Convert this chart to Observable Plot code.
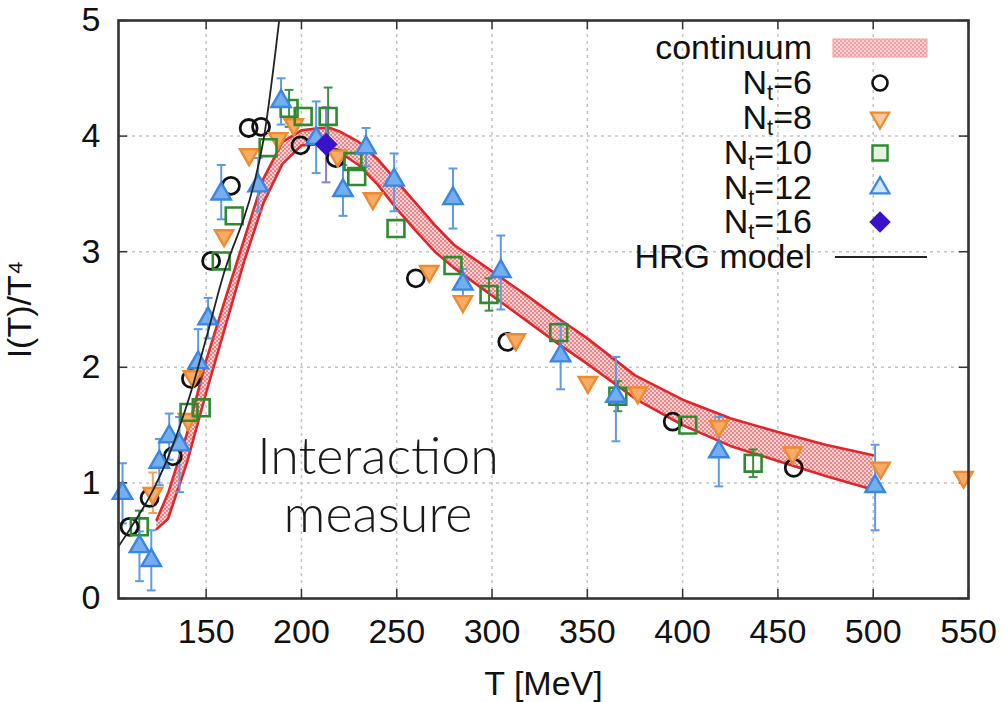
<!DOCTYPE html>
<html><head><meta charset="utf-8">
<script src="https://cdn.jsdelivr.net/npm/d3@7"></script>
<script src="https://cdn.jsdelivr.net/npm/@observablehq/plot@0.6"></script>
<style>
body{margin:0;background:#fff;}
#wrap{position:relative;width:1006px;height:702px;overflow:hidden;background:#fff;}
#chart{position:absolute;left:0;top:0;}
.note{position:absolute;left:178px;width:400px;text-align:center;font-family:"Lato","Open Sans",sans-serif;font-weight:300;font-size:52px;line-height:56px;height:56px;color:#1a1a1a;white-space:nowrap;}
g[aria-label="x-axis tick label"]{font-family:"Liberation Sans Narrow","Liberation Sans",Arial,sans-serif;}
</style></head>
<body><div id="wrap"><div id="chart"></div><div class="note" style="top:426px">Interaction</div><div class="note" style="top:484px">measure</div></div>
<script>
// ---- axis ticks ----
const xTicks = [150, 200, 250, 300, 350, 400, 450, 500, 550];
const yTicks = [0, 1, 2, 3, 4, 5];

// ---- continuum band ----
const contT  = [124,130,140,150,160,170,180,190,200,210,215,220,230,240,250,260,270,280,300,320,335,350,375,400,425,450,475,500];
const contLo = [0.60,0.69,1.18,1.78,2.35,2.92,3.42,3.76,3.92,3.93,3.90,3.86,3.75,3.58,3.37,3.18,3.00,2.86,2.62,2.38,2.20,2.03,1.73,1.50,1.32,1.19,1.06,0.94];
const contHi = [0.68,0.91,1.43,2.06,2.59,3.11,3.63,3.95,4.05,4.07,4.07,4.04,3.95,3.80,3.61,3.42,3.23,3.06,2.83,2.60,2.42,2.25,1.93,1.72,1.56,1.44,1.33,1.24];

// ---- HRG model ----
const hrgT = [104,110,120,130,140,150,160,170,175,180,185,189];
const hrgI = [0.45,0.60,0.87,1.22,1.68,2.25,2.85,3.30,3.58,3.96,4.55,5.10];

// ---- Nt=6 ----
const nt6T = [109.8,120.3,132.5,142,152.6,163,172.3,178.8,199.5,218,260,308,394.8,458.3];
const nt6I = [0.62,0.87,1.23,1.90,2.92,3.57,4.07,4.08,3.92,3.81,2.77,2.22,1.53,1.13];

// ---- Nt=8 ----
const nt8T = [122,140.5,143,159.4,172.5,187.7,196,219,237.5,267,284.7,312.5,350.3,376.5,419,457.7,503.9,547.4];
const nt8I = [0.91,1.55,1.92,3.14,3.84,3.98,4.10,3.83,3.46,2.83,2.57,2.24,1.87,1.78,1.49,1.26,1.13,1.05];
const nt8ErrT  = [122];
const nt8ErrLo = [0.74];
const nt8ErrHi = [1.09];

// ---- Nt=10 ----
const nt10T = [114.9,141,147.4,157.9,164.7,182.5,193.5,200.9,214,227,229,249.6,279.5,298.4,335,366,402.7,437];
const nt10I = [0.62,1.61,1.65,2.92,3.31,3.90,4.24,4.17,4.17,3.78,3.65,3.20,2.88,2.63,2.30,1.75,1.50,1.17];
const nt10ErrT  = [114.9,193.5,214,298.4,366,437];
const nt10ErrLo = [0.48,4.08,3.92,2.49,1.62,1.05];
const nt10ErrHi = [0.76,4.40,4.42,2.77,1.88,1.29];

// ---- Nt=12 ----
const nt12T  = [106.1,115,121.2,125.4,130.6,136,145.8,151,157.9,177.3,189.3,207.7,221.8,233.9,248.6,279.5,284.7,304.6,336,365,419,501];
const nt12I  = [0.91,0.45,0.33,1.18,1.40,1.33,2.04,2.42,3.50,3.57,4.30,3.98,3.53,3.90,3.62,3.46,2.72,2.83,2.10,1.75,1.27,0.97];
const nt12Lo = [0.65,0.15,0.07,0.98,1.20,0.92,1.86,2.25,3.28,3.35,4.10,3.68,3.31,3.74,3.35,3.20,2.60,2.50,1.81,1.36,0.97,0.59];
const nt12Hi = [1.17,0.58,0.59,1.38,1.60,1.57,2.33,2.60,3.75,3.81,4.50,4.30,3.75,4.07,3.85,3.72,2.85,3.14,2.38,2.09,1.57,1.33];

// ---- Nt=16 ----
const nt16T = [212.9];
const nt16I = [3.93];
const nt16Lo = [3.60];
const nt16Hi = [4.25];

// ---- legend ----
const legendLabels = ["continuum","6","8","10","12","16","HRG model"];

const zip = (T, I) => T.map((t, i) => ({T: t, I: I[i]}));
const zipErr = (T, lo, hi) => T.map((t, i) => ({T: t, lo: lo[i], hi: hi[i]}));

const cont = contT.map((t, i) => ({T: t, lo: contLo[i], hi: contHi[i]}));
const hrg = zip(hrgT, hrgI);
const nt6 = zip(nt6T, nt6I);
const nt8 = zip(nt8T, nt8I);
const nt10 = zip(nt10T, nt10I);
const nt12 = zip(nt12T, nt12I);
const nt16 = zip(nt16T, nt16I);
const err8 = zipErr(nt8ErrT, nt8ErrLo, nt8ErrHi);
const err10 = zipErr(nt10ErrT, nt10ErrLo, nt10ErrHi);
const err12 = zipErr(nt12T, nt12Lo, nt12Hi);
const err16 = zipErr(nt16T, nt16Lo, nt16Hi);

const cap = {draw(ctx, size) { const w = Math.sqrt(size) / 2; ctx.moveTo(-w, 0); ctx.lineTo(w, 0); }};

const C6 = "#111111", C8s = "#f08a2c", C8f = "#f6ac68", C10 = "#2e8b2e", C12s = "#3a86e2", C12f = "#74aeee", C16 = "#3a12c8";
const E8 = "#f2a060", E10 = "#3d8f3d", E12 = "#5d9be6", E16 = "#8a7ed8";

function errMarks(data, color) {
  return [
    Plot.ruleX(data, {x: "T", y1: "lo", y2: "hi", stroke: color, strokeWidth: 2}),
    Plot.dot(data, {x: "T", y: "lo", symbol: cap, r: 5, fill: "none", stroke: color, strokeWidth: 2}),
    Plot.dot(data, {x: "T", y: "hi", symbol: cap, r: 5, fill: "none", stroke: color, strokeWidth: 2})
  ];
}

const W = 1006, H = 702, mL = 118, mR = 38, mT = 20, mB = 104;
const pw = W - mL - mR, ph = H - mT - mB;

const svg = Plot.plot({
  width: W, height: H,
  marginLeft: mL, marginRight: mR, marginTop: mT, marginBottom: mB,
  x: {domain: [104, 550]},
  y: {domain: [0, 5]},
  style: {fontFamily: "'Liberation Sans', Arial, sans-serif", fontSize: "34px", color: "#111", background: "#fff", overflow: "visible"},
  marks: [
    Plot.gridX(xTicks, {stroke: "#c4c4c4", strokeOpacity: 1, strokeWidth: 1.5, strokeDasharray: "3,4"}),
    Plot.gridY(yTicks.slice(1, 5), {stroke: "#c4c4c4", strokeOpacity: 1, strokeWidth: 1.5, strokeDasharray: "3,4"}),
    Plot.ruleX(xTicks, {stroke: "#333", strokeWidth: 1.5, insetTop: ph - 9}),
    Plot.ruleX(xTicks, {stroke: "#333", strokeWidth: 1.5, insetBottom: ph - 9}),
    Plot.ruleY(yTicks, {stroke: "#333", strokeWidth: 1.5, insetRight: pw - 9}),
    Plot.ruleY(yTicks, {stroke: "#333", strokeWidth: 1.5, insetLeft: pw - 9}),
    Plot.areaY(cont, {x: "T", y1: "lo", y2: "hi", fill: "url(#chk)"}),
    Plot.line(cont, {x: "T", y: "lo", stroke: "#e0252b", strokeWidth: 2.6}),
    Plot.line(cont, {x: "T", y: "hi", stroke: "#e0252b", strokeWidth: 2.6}),
    ...errMarks(err8, E8),
    ...errMarks(err10, E10),
    ...errMarks(err12, E12),
    ...errMarks(err16, E16),
    Plot.dot(nt6, {x: "T", y: "I", symbol: "circle", r: 8.5, fill: "none", stroke: C6, strokeWidth: 2.8}),
    Plot.dot(nt8, {x: "T", y: "I", symbol: "triangle", rotate: 180, r: 6.8, fill: C8f, stroke: C8s, strokeWidth: 2.4}),
    Plot.dot(nt10, {x: "T", y: "I", symbol: "square", r: 9.5, fill: "none", stroke: C10, strokeWidth: 2.6}),
    Plot.dot(nt12, {x: "T", y: "I", symbol: "triangle", r: 7.2, fill: C12f, stroke: C12s, strokeWidth: 2.4}),
    Plot.dot(nt16, {x: "T", y: "I", symbol: "square", rotate: 45, r: 8.6, fill: C16, stroke: C16, strokeWidth: 1}),
    Plot.line(hrg, {x: "T", y: "I", stroke: "#222", strokeWidth: 1.8, curve: "catmull-rom", clip: true}),
    Plot.frame({stroke: "#333", strokeWidth: 2.6}),
    Plot.axisX(xTicks, {tickSize: 0, tickPadding: 20, label: "T [MeV]", labelAnchor: "center", labelOffset: 96, labelArrow: "none"}),
    Plot.axisY(yTicks, {tickSize: 0, tickPadding: 18, tickFormat: d3.format("d"), label: "I(T)/T⁴", labelAnchor: "center", labelOffset: 112, labelArrow: "none"})
  ]
});

// checkered pattern for the continuum band
const defs = d3.select(svg).insert("defs", ":first-child");
const pat = defs.append("pattern").attr("id", "chk").attr("width", 4).attr("height", 4).attr("patternUnits", "userSpaceOnUse");
pat.append("rect").attr("width", 4).attr("height", 4).attr("fill", "#fbd2d3");
pat.append("rect").attr("width", 2).attr("height", 2).attr("fill", "#ee8587");
pat.append("rect").attr("x", 2).attr("y", 2).attr("width", 2).attr("height", 2).attr("fill", "#ee8587");

document.getElementById("chart").appendChild(svg);

// ---- legend overlay ----
const leg = d3.select("#wrap").append("svg")
  .attr("width", W).attr("height", H)
  .style("position", "absolute").style("left", "0px").style("top", "0px")
  .style("font-family", "'Liberation Sans', Arial, sans-serif").style("font-size", "34px");
const cy = [48, 83, 118, 153, 188, 222, 257];
const tx = 812, sx = 880;
legendLabels.forEach((lab, i) => {
  const t = leg.append("text").attr("x", tx).attr("y", cy[i] + 11).attr("text-anchor", "end").attr("fill", "#111");
  if (i === 0 || i === 6) t.text(lab);
  else {
    t.append("tspan").text("N");
    t.append("tspan").attr("font-size", "22px").attr("dy", 6).text("t");
    t.append("tspan").attr("dy", -6).text("=" + lab);
  }
});
// swatch
const ldefs = leg.append("defs");
const pat2 = ldefs.append("pattern").attr("id", "chk2").attr("width", 4).attr("height", 4).attr("patternUnits", "userSpaceOnUse");
pat2.append("rect").attr("width", 4).attr("height", 4).attr("fill", "#fbd2d3");
pat2.append("rect").attr("width", 2).attr("height", 2).attr("fill", "#f2a0a2");
pat2.append("rect").attr("x", 2).attr("y", 2).attr("width", 2).attr("height", 2).attr("fill", "#f2a0a2");
leg.append("rect").attr("x", 833).attr("y", cy[0] - 9).attr("width", 94).attr("height", 18).attr("fill", "url(#chk2)").attr("stroke", "#f2a0a0").attr("stroke-width", 1);
const sym = (type, r) => d3.symbol(type, Math.PI * r * r)();
leg.append("path").attr("d", sym(d3.symbolCircle, 7.5)).attr("transform", `translate(${sx},${cy[1]})`).attr("fill", "none").attr("stroke", C6).attr("stroke-width", 2.6);
leg.append("path").attr("d", sym(d3.symbolTriangle, 6.8)).attr("transform", `translate(${sx},${cy[2]}) rotate(180)`).attr("fill", "#f8c99c").attr("stroke", C8s).attr("stroke-width", 2.2);
leg.append("path").attr("d", sym(d3.symbolSquare, 8.5)).attr("transform", `translate(${sx},${cy[3]})`).attr("fill", "#e4f2e0").attr("stroke", C10).attr("stroke-width", 2.4);
leg.append("path").attr("d", sym(d3.symbolTriangle, 7)).attr("transform", `translate(${sx},${cy[4]})`).attr("fill", "#d4e6fa").attr("stroke", C12s).attr("stroke-width", 2.2);
leg.append("path").attr("d", sym(d3.symbolSquare, 8.6)).attr("transform", `translate(${sx},${cy[5]}) rotate(45)`).attr("fill", C16);
leg.append("line").attr("x1", 835).attr("x2", 927).attr("y1", cy[6]).attr("y2", cy[6]).attr("stroke", "#222").attr("stroke-width", 2);
</script>
</body></html>
